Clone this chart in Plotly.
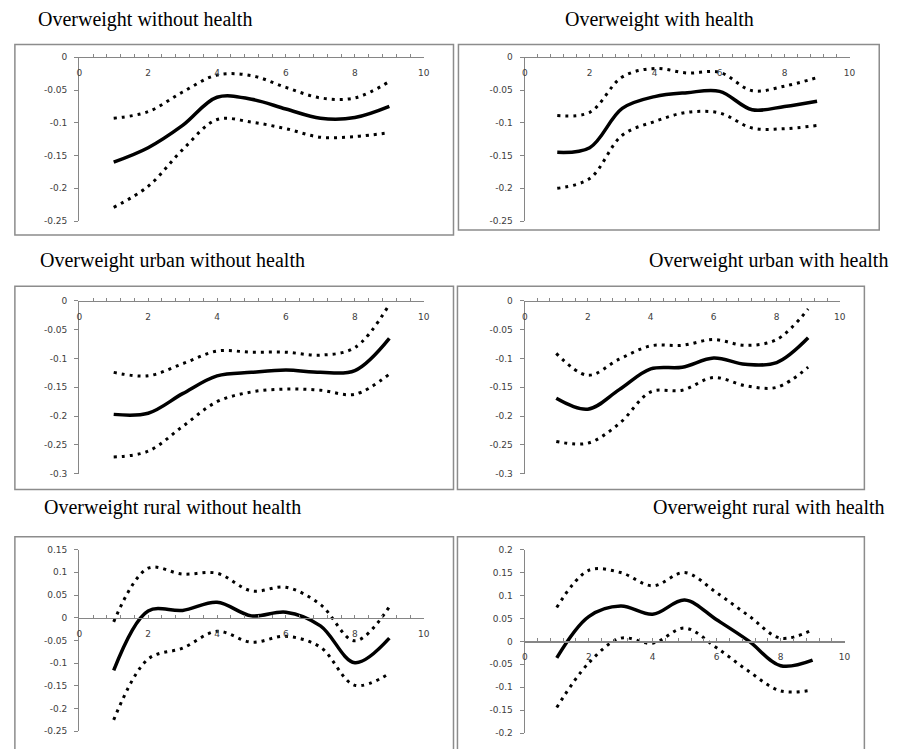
import plotly.graph_objects as go

W, H = 909, 749

# ---------------- data (x = 1..9) ----------------
X = [1, 2, 3, 4, 5, 6, 7, 8, 9]

P1_EST = [-0.160, -0.138, -0.104, -0.061, -0.064, -0.079, -0.093, -0.092, -0.075]
P1_UP = [-0.093, -0.083, -0.053, -0.027, -0.028, -0.046, -0.062, -0.062, -0.037]
P1_LO = [-0.229, -0.197, -0.141, -0.095, -0.099, -0.109, -0.122, -0.121, -0.115]

P2_EST = [-0.145, -0.138, -0.078, -0.060, -0.054, -0.052, -0.080, -0.075, -0.067]
P2_UP = [-0.089, -0.084, -0.030, -0.017, -0.024, -0.023, -0.051, -0.044, -0.031]
P2_LO = [-0.200, -0.185, -0.119, -0.098, -0.084, -0.085, -0.108, -0.109, -0.104]

P3_EST = [-0.197, -0.195, -0.161, -0.130, -0.124, -0.120, -0.124, -0.121, -0.065]
P3_UP = [-0.124, -0.130, -0.109, -0.087, -0.089, -0.089, -0.094, -0.081, -0.006]
P3_LO = [-0.271, -0.261, -0.218, -0.175, -0.158, -0.153, -0.155, -0.162, -0.127]

P4_EST = [-0.169, -0.188, -0.154, -0.118, -0.115, -0.099, -0.110, -0.107, -0.064]
P4_UP = [-0.091, -0.129, -0.101, -0.078, -0.077, -0.067, -0.077, -0.067, -0.014]
P4_LO = [-0.244, -0.247, -0.213, -0.158, -0.155, -0.133, -0.147, -0.150, -0.115]

P5_EST = [-0.116, 0.015, 0.016, 0.034, 0.004, 0.012, -0.018, -0.099, -0.045]
P5_UP = [-0.009, 0.109, 0.096, 0.098, 0.059, 0.067, 0.029, -0.051, 0.024]
P5_LO = [-0.225, -0.091, -0.067, -0.030, -0.054, -0.041, -0.065, -0.149, -0.123]

P6_EST = [-0.036, 0.054, 0.077, 0.059, 0.090, 0.047, 0.001, -0.053, -0.041]
P6_UP = [0.074, 0.155, 0.150, 0.121, 0.150, 0.106, 0.056, 0.007, 0.025]
P6_LO = [-0.144, -0.047, 0.007, -0.004, 0.029, -0.014, -0.065, -0.108, -0.106]

TITLES = [
    "Overweight without health",
    "Overweight with health",
    "Overweight urban without health",
    "Overweight urban with health",
    "Overweight rural without health",
    "Overweight rural with health",
]

X_TICKVALS = [0, 2, 4, 6, 8, 10]
X_TICKTEXT = ["0", "2", "4", "6", "8", "10"]

Y_TICKS_A = [0, -0.05, -0.1, -0.15, -0.2, -0.25]
Y_TEXT_A = ["0", "-0.05", "-0.1", "-0.15", "-0.2", "-0.25"]
Y_TICKS_B = [0, -0.05, -0.1, -0.15, -0.2, -0.25, -0.3]
Y_TEXT_B = ["0", "-0.05", "-0.1", "-0.15", "-0.2", "-0.25", "-0.3"]
Y_TICKS_C = [0.15, 0.1, 0.05, 0, -0.05, -0.1, -0.15, -0.2, -0.25]
Y_TEXT_C = ["0.15", "0.1", "0.05", "0", "-0.05", "-0.1", "-0.15", "-0.2", "-0.25"]
Y_TICKS_D = [0.2, 0.15, 0.1, 0.05, 0, -0.05, -0.1, -0.15, -0.2]
Y_TEXT_D = ["0.2", "0.15", "0.1", "0.05", "0", "-0.05", "-0.1", "-0.15", "-0.2"]

# ---------------- layout geometry (pixels) ----------------
PANELS = [
    dict(est=P1_EST, up=P1_UP, lo=P1_LO, area=(77, 425, 53, 219), yr=(-0.25, 0),
         yt=Y_TICKS_A, ytt=Y_TEXT_A, frame=(12, 40, 455, 233), title=(143, 15)),
    dict(est=P2_EST, up=P2_UP, lo=P2_LO, area=(527, 855, 53, 219), yr=(-0.25, 0),
         yt=Y_TICKS_A, ytt=Y_TEXT_A, frame=(460, 40, 885, 228), title=(663, 15)),
    dict(est=P3_EST, up=P3_UP, lo=P3_LO, area=(77, 425, 300, 475), yr=(-0.3, 0),
         yt=Y_TICKS_B, ytt=Y_TEXT_B, frame=(12, 285, 455, 491), title=(171, 259)),
    dict(est=P4_EST, up=P4_UP, lo=P4_LO, area=(527, 845, 300, 475), yr=(-0.3, 0),
         yt=Y_TICKS_B, ytt=Y_TEXT_B, frame=(459, 285, 870, 491), title=(773, 259)),
    dict(est=P5_EST, up=P5_UP, lo=P5_LO, area=(77, 425, 552, 736), yr=(-0.25, 0.15),
         yt=Y_TICKS_C, ytt=Y_TEXT_C, frame=(12, 539, 455, 770), title=(171, 509)),
    dict(est=P6_EST, up=P6_UP, lo=P6_LO, area=(527, 850, 552, 738), yr=(-0.2, 0.2),
         yt=Y_TICKS_D, ytt=Y_TEXT_D, frame=(459, 539, 870, 770), title=(774, 509)),
]


def fx(px):
    return px / W


def fy(py):
    return 1 - py / H


AXIS_COLOR = "#868686"
TICK_FONT = dict(family="DejaVu Sans", size=9, color="#404040")

fig = go.Figure()
layout = dict(
    width=W, height=H,
    margin=dict(l=0, r=0, t=0, b=0),
    paper_bgcolor="white",
    plot_bgcolor="rgba(0,0,0,0)",
    showlegend=False,
    shapes=[],
    annotations=[],
)

for i, p in enumerate(PANELS, start=1):
    xa = "x" if i == 1 else f"x{i}"
    ya = "y" if i == 1 else f"y{i}"
    xl, xr, yt_px, yb_px = p["area"]
    ymin, ymax = p["yr"]
    ydom = [fy(yb_px), fy(yt_px)]
    zero_pos = ydom[0] + (0 - ymin) / (ymax - ymin) * (ydom[1] - ydom[0])

    for series, style in ((p["lo"], "dot"), (p["up"], "dot"), (p["est"], "solid")):
        if style == "dot":
            line = dict(color="black", width=3, dash="3px,5px", shape="spline", smoothing=1)
        else:
            line = dict(color="black", width=3.5, shape="spline", smoothing=1)
        fig.add_trace(go.Scatter(x=X, y=series, mode="lines", line=line,
                                 xaxis=xa, yaxis=ya, hoverinfo="skip"))

    xkey = "xaxis" if i == 1 else f"xaxis{i}"
    ykey = "yaxis" if i == 1 else f"yaxis{i}"
    layout[xkey] = dict(
        domain=[fx(xl), fx(xr)], range=[0, 10], anchor="free", position=zero_pos,
        side="bottom",
        showgrid=False, zeroline=False, showline=True, linecolor=AXIS_COLOR, linewidth=1.2,
        ticks="inside", ticklen=3, tickcolor=AXIS_COLOR, tickwidth=1,
        tickvals=X_TICKVALS, ticktext=X_TICKTEXT, tickfont=TICK_FONT,
        ticklabelstandoff=7,
        minor=dict(dtick=0.4, tick0=0, ticks="inside", ticklen=3, tickcolor=AXIS_COLOR,
                   tickwidth=1, showgrid=False),
        fixedrange=True,
    )
    layout[ykey] = dict(
        domain=ydom, range=[ymin, ymax], anchor=xa,
        showgrid=False, zeroline=False, showline=True, linecolor=AXIS_COLOR, linewidth=1.2,
        ticks="outside", ticklen=4, tickcolor=AXIS_COLOR, tickwidth=1,
        tickvals=p["yt"], ticktext=p["ytt"], tickfont=TICK_FONT,
        ticklabelstandoff=5,
        fixedrange=True,
    )

    fl, ft, fr, fb = p["frame"]
    layout["shapes"].append(dict(
        type="rect", xref="paper", yref="paper",
        x0=fx(fl), x1=fx(fr), y0=fy(fb), y1=fy(ft),
        line=dict(color="#8c8c8c", width=1.5), fillcolor="white", layer="below",
    ))

    tcx, tcy = p["title"]
    layout["annotations"].append(dict(
        text=TITLES[i - 1], xref="paper", yref="paper", x=fx(tcx), y=fy(tcy),
        xanchor="center", yanchor="middle", showarrow=False,
        font=dict(family="Liberation Serif", size=20, color="black"),
    ))

fig.update_layout(**layout)
fig.write_html(
    "out.html",
    config={"displayModeBar": False, "staticPlot": True},
    post_script="document.body.style.margin='0';document.body.style.overflow='hidden';",
)
